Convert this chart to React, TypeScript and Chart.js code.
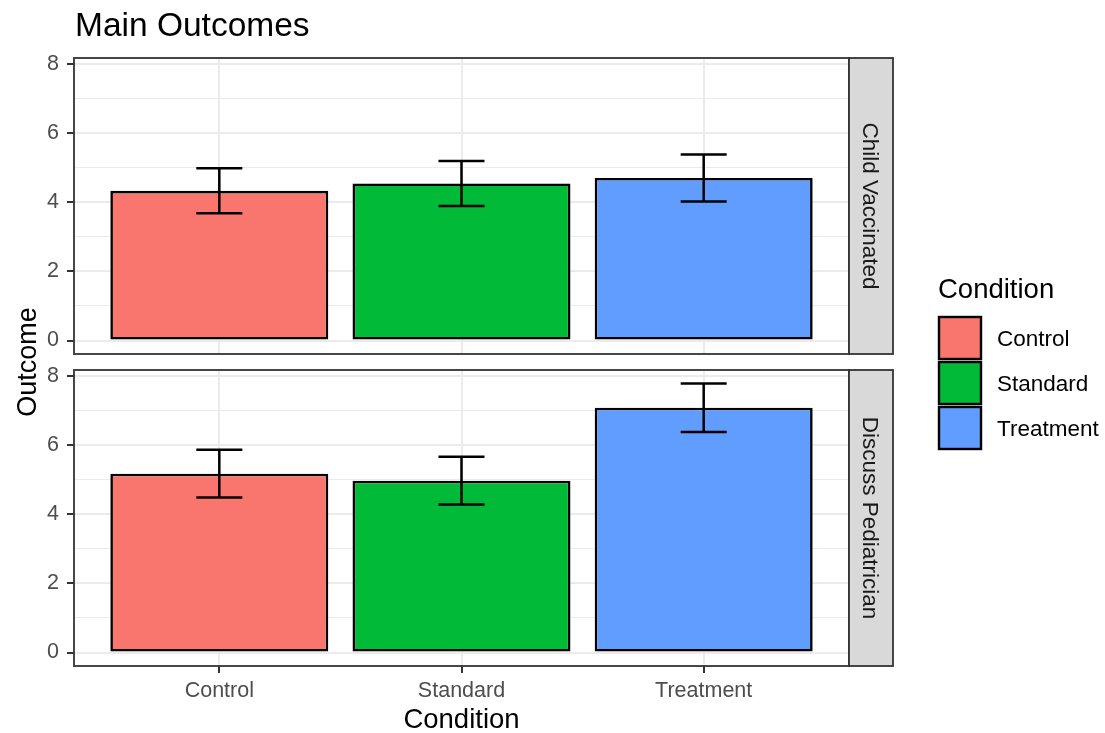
import { useEffect, useRef } from 'react';
import { Chart, registerables } from 'chart.js';

Chart.register(...registerables);

// ---- data ----
const conditions = ['Control', 'Standard', 'Treatment'];
const conditionColors = ['#F8766D', '#00BA38', '#619CFF'];
const facetLabels = ['Child Vaccinated', 'Discuss Pediatrician'];
const vaccinatedMeans = [4.33, 4.54, 4.7];
const vaccinatedErrors = [0.65, 0.65, 0.68];
const pediatricianMeans = [5.17, 4.97, 7.08];
const pediatricianErrors = [0.69, 0.69, 0.7];
const yTickLabels = [0, 2, 4, 6, 8];

const FONT = '"Liberation Sans", Arial, Helvetica, sans-serif';
const WIDTH = 1105;
const HEIGHT = 733;
const ERRORBAR_WIDTH = 0.19; // in category units
const BAR_WIDTH = 0.9;

// shared y range: 5% expansion around [0, highest error bar]
const yUpper = Math.max(
  ...vaccinatedMeans.map((m, i) => m + vaccinatedErrors[i]),
  ...pediatricianMeans.map((m, i) => m + pediatricianErrors[i])
);
const yExpand = yUpper * 0.05;

type PanelSpec = {
  means: number[];
  errors: number[];
  facet: string;
  top: number; // chart area top
  bottom: number; // chart area bottom
  showX: boolean;
  decorate: (ctx: CanvasRenderingContext2D, chart: Chart) => void;
};

const PANEL_LEFT = 74;
const PANEL_RIGHT = 849;
const STRIP_WIDTH = 44;

function drawFigureText(ctx: CanvasRenderingContext2D) {
  ctx.save();
  // plot title
  ctx.fillStyle = '#000';
  ctx.font = `33.5px ${FONT}`;
  ctx.textAlign = 'left';
  ctx.textBaseline = 'alphabetic';
  ctx.fillText('Main Outcomes', 75, 35.5);

  // y axis title
  ctx.font = `27px ${FONT}`;
  ctx.save();
  ctx.translate(36, 362);
  ctx.rotate(-Math.PI / 2);
  ctx.textAlign = 'center';
  ctx.fillText('Outcome', 0, 0);
  ctx.restore();

  // legend
  ctx.textAlign = 'left';
  ctx.font = `27.5px ${FONT}`;
  ctx.fillText('Condition', 938, 297.5);
  const keyLeft = 939;
  const keySize = 42;
  const keyStep = 45;
  const keyTop = 317;
  ctx.font = `22.5px ${FONT}`;
  conditions.forEach((name, i) => {
    const y0 = keyTop + i * keyStep;
    ctx.fillStyle = conditionColors[i];
    ctx.fillRect(keyLeft, y0, keySize, keySize);
    ctx.strokeStyle = '#000';
    ctx.lineWidth = 2.4;
    ctx.strokeRect(keyLeft, y0, keySize, keySize);
    ctx.fillStyle = '#000';
    ctx.fillText(name, 997, y0 + keySize / 2 + 8);
  });
  ctx.restore();
}

function drawXTitle(ctx: CanvasRenderingContext2D) {
  ctx.save();
  ctx.fillStyle = '#000';
  ctx.font = `27.5px ${FONT}`;
  ctx.textAlign = 'center';
  ctx.textBaseline = 'alphabetic';
  ctx.fillText('Condition', (PANEL_LEFT + PANEL_RIGHT) / 2, 728);
  ctx.restore();
}

function makeChart(canvas: HTMLCanvasElement, spec: PanelSpec) {
  const panelPlugin = {
    id: 'panelDecor',
    afterDatasetsDraw(chart: Chart) {
      const { ctx, chartArea } = chart;
      const xs = chart.scales.x;
      const ys = chart.scales.y;
      ctx.save();
      // error bars
      ctx.strokeStyle = '#000';
      ctx.lineWidth = 2.5;
      ctx.lineCap = 'butt';
      spec.means.forEach((m, i) => {
        const xv = i + 1;
        const xc = xs.getPixelForValue(xv);
        const xl = xs.getPixelForValue(xv - ERRORBAR_WIDTH / 2);
        const xr = xs.getPixelForValue(xv + ERRORBAR_WIDTH / 2);
        const yHi = ys.getPixelForValue(m + spec.errors[i]);
        const yLo = ys.getPixelForValue(m - spec.errors[i]);
        ctx.beginPath();
        ctx.moveTo(xc, yHi);
        ctx.lineTo(xc, yLo);
        ctx.moveTo(xl, yHi);
        ctx.lineTo(xr, yHi);
        ctx.moveTo(xl, yLo);
        ctx.lineTo(xr, yLo);
        ctx.stroke();
      });

      // panel border
      ctx.strokeStyle = '#333333';
      ctx.lineWidth = 1.8;
      ctx.strokeRect(
        chartArea.left,
        chartArea.top,
        chartArea.right - chartArea.left,
        chartArea.bottom - chartArea.top
      );

      // facet strip
      const sx = chartArea.right;
      ctx.fillStyle = '#D9D9D9';
      ctx.fillRect(sx, chartArea.top, STRIP_WIDTH, chartArea.bottom - chartArea.top);
      ctx.strokeRect(sx, chartArea.top, STRIP_WIDTH, chartArea.bottom - chartArea.top);
      ctx.fillStyle = '#1A1A1A';
      ctx.font = `22.5px ${FONT}`;
      ctx.textAlign = 'center';
      ctx.textBaseline = 'alphabetic';
      ctx.translate(sx + STRIP_WIDTH / 2 - 8, (chartArea.top + chartArea.bottom) / 2);
      ctx.rotate(Math.PI / 2);
      ctx.fillText(spec.facet, 0, 0);
      ctx.restore();
    },
    afterDraw(chart: Chart) {
      spec.decorate(chart.ctx, chart);
    },
  };

  return new Chart(canvas, {
    type: 'bar',
    data: {
      datasets: [
        {
          data: conditions.map((_, i) => ({ x: i + 1, y: spec.means[i] })),
          backgroundColor: conditionColors,
          borderColor: '#000',
          borderWidth: 2.6,
          borderSkipped: false,
          barPercentage: BAR_WIDTH,
          categoryPercentage: 1,
        },
      ],
    },
    options: {
      responsive: false,
      animation: false,
      events: [],
      layout: {
        padding: { left: 0, right: WIDTH - PANEL_RIGHT, top: spec.top, bottom: spec.showX ? 0 : HEIGHT - spec.bottom },
      },
      plugins: {
        legend: { display: false },
        tooltip: { enabled: false },
      },
      scales: {
        x: {
          type: 'linear',
          min: 0.4,
          max: conditions.length + 0.6,
          offset: false,
          border: { display: false },
          grid: {
            offset: false,
            color: '#EBEBEB',
            lineWidth: 2,
            drawTicks: spec.showX,
            tickLength: 7,
            tickColor: '#333333',
            tickWidth: 2,
          },
          ticks: {
            display: spec.showX,
            stepSize: 1,
            includeBounds: false,
            autoSkip: false,
            maxRotation: 0,
            padding: 5,
            color: '#4D4D4D',
            font: { size: 21.5, family: FONT },
            callback: (v: any) => conditions[Number(v) - 1] ?? '',
          },
          afterFit: (s: any) => {
            s.height = spec.showX ? HEIGHT - spec.bottom : 0;
          },
        },
        y: {
          type: 'linear',
          min: -yExpand,
          max: yUpper + yExpand,
          border: { display: false },
          grid: {
            color: '#EBEBEB',
            lineWidth: (c: any) => (yTickLabels.includes(c.tick?.value) ? 2 : 1),
            tickLength: 7,
            tickColor: (c: any) => (yTickLabels.includes(c.tick?.value) ? '#333333' : 'rgba(0,0,0,0)'),
            tickWidth: 2,
          },
          ticks: {
            stepSize: 1,
            includeBounds: false,
            autoSkip: false,
            padding: 8,
            color: '#4D4D4D',
            font: { size: 21.5, family: FONT },
            callback: (v: any) => (yTickLabels.includes(Number(v)) ? String(v) : ''),
          },
          afterFit: (s: any) => {
            s.width = PANEL_LEFT;
          },
        },
      },
    },
    plugins: [panelPlugin],
  } as any);
}

export default function App() {
  const topRef = useRef<HTMLCanvasElement>(null);
  const bottomRef = useRef<HTMLCanvasElement>(null);

  useEffect(() => {
    Chart.defaults.font.family = FONT;
    const top = makeChart(topRef.current!, {
      means: vaccinatedMeans,
      errors: vaccinatedErrors,
      facet: facetLabels[0],
      top: 58,
      bottom: 354,
      showX: false,
      decorate: (ctx) => drawFigureText(ctx),
    });
    const bottom = makeChart(bottomRef.current!, {
      means: pediatricianMeans,
      errors: pediatricianErrors,
      facet: facetLabels[1],
      top: 370,
      bottom: 666,
      showX: true,
      decorate: (ctx) => drawXTitle(ctx),
    });
    return () => {
      top.destroy();
      bottom.destroy();
    };
  }, []);

  const canvasStyle: React.CSSProperties = {
    position: 'absolute',
    left: 0,
    top: 0,
    width: WIDTH,
    height: HEIGHT,
  };

  return (
    <div style={{ position: 'absolute', left: 0, top: 0, width: WIDTH, height: HEIGHT, background: '#fff' }}>
      <canvas ref={topRef} width={WIDTH} height={HEIGHT} style={canvasStyle} />
      <canvas ref={bottomRef} width={WIDTH} height={HEIGHT} style={canvasStyle} />
    </div>
  );
}
